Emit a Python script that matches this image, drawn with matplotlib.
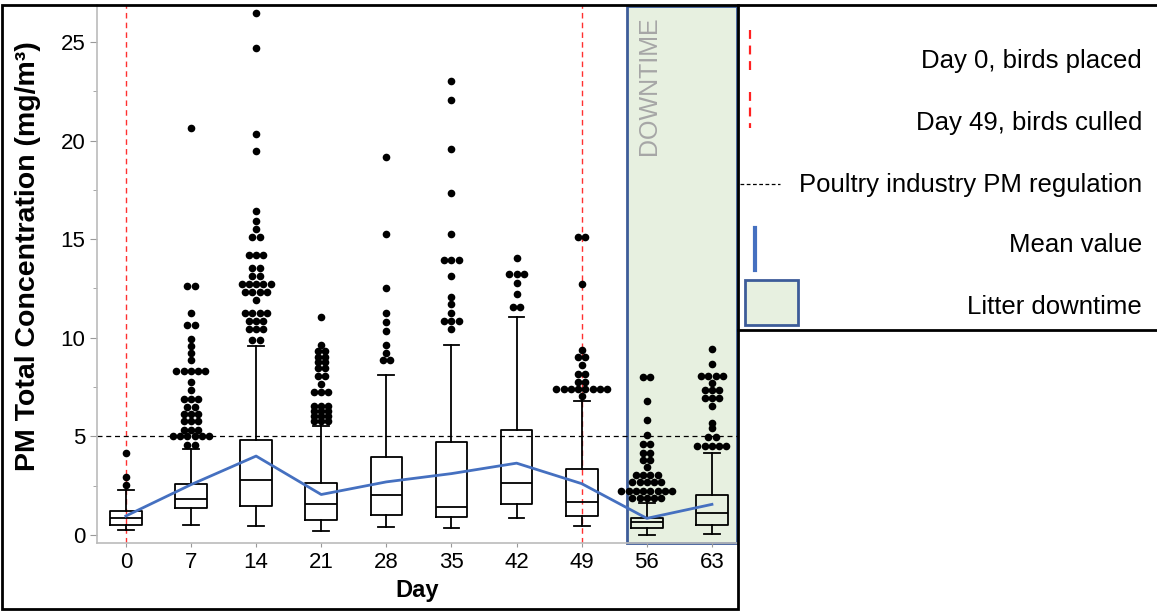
import numpy as np
import matplotlib.pyplot as plt
from matplotlib.patches import Rectangle
from matplotlib.lines import Line2D

plt.rcParams['font.family'] = ['Liberation Sans', 'DejaVu Sans']

# Datos (mg/m3)
days = [0, 7, 14, 21, 28, 35, 42, 49, 56, 63]
q1 = [0.51, 1.38, 1.47, 0.78, 1.02, 0.91, 1.55, 0.96, 0.33, 0.51]
med = [0.87, 1.84, 2.78, 1.56, 2.00, 1.42, 2.65, 1.69, 0.64, 1.09]
q3 = [1.20, 2.60, 4.84, 2.65, 3.96, 4.69, 5.33, 3.33, 0.87, 2.00]
whis_lo = [0.24, 0.51, 0.45, 0.18, 0.38, 0.33, 0.84, 0.45, 0.02, 0.05]
whis_hi = [2.27, 4.38, 9.60, 5.55, 8.09, 9.65, 11.05, 6.78, 1.60, 4.18]
means = [0.96, 2.55, 4.00, 2.05, 2.69, 3.11, 3.64, 2.60, 0.84, 1.55]

# Valores atípicos: (valor, cantidad de puntos en esa fila)
outliers = [
    [(4.15, 1), (2.96, 1), (2.55, 1)],
    [(20.65, 1), (12.65, 2), (11.24, 1), (10.65, 2), (9.96, 1), (9.6, 1), (9.24, 1),
     (8.87, 1), (8.33, 5), (7.75, 1), (7.33, 1), (6.9, 3), (6.5, 2), (6.15, 3),
     (5.78, 3), (5.33, 3), (5.02, 6), (4.56, 2)],
    [(26.47, 1), (24.7, 1), (20.36, 1), (19.45, 1), (16.45, 1), (15.93, 1), (15.5, 1),
     (15.1, 2), (14.18, 3), (13.56, 2), (13.15, 2), (12.75, 5), (12.33, 4), (11.93, 1),
     (11.24, 4), (10.87, 3), (10.47, 3), (9.87, 2)],
    [(11.05, 1), (9.64, 1), (9.33, 2), (9.05, 2), (8.78, 2), (8.45, 2), (8.05, 2),
     (7.64, 1), (7.24, 3), (6.55, 3), (6.29, 3), (6.05, 3), (5.78, 3)],
    [(19.15, 1), (15.24, 1), (12.55, 1), (11.24, 1), (10.78, 1), (10.33, 1), (9.64, 1),
     (9.24, 1), (8.87, 2)],
    [(23.05, 1), (22.05, 1), (19.56, 1), (17.36, 1), (15.24, 1), (13.93, 3), (13.15, 1),
     (12.05, 1), (11.69, 1), (11.24, 1), (10.87, 3), (10.42, 1)],
    [(14.05, 1), (13.24, 3), (12.78, 1), (12.24, 1), (11.56, 2)],
    [(15.1, 2), (12.75, 1), (9.38, 1), (9.0, 2), (8.6, 1), (8.18, 2), (7.78, 2),
     (7.42, 8), (7.05, 1)],
    [(8.02, 2), (6.78, 1), (5.82, 1), (5.05, 1), (4.6, 2), (4.18, 2), (3.78, 2),
     (3.42, 1), (3.05, 4), (2.69, 5), (2.24, 8), (1.87, 5)],
    [(9.42, 1), (8.65, 1), (8.05, 4), (7.69, 1), (7.36, 3), (6.96, 3), (6.55, 1),
     (5.69, 1), (5.42, 1), (4.96, 2), (4.51, 5)],
]

regulacion = 5.0
dia_colocacion = 0
dia_sacrificio = 49
inicio_descanso = 53.9

W, H = 1157, 611
fig = plt.figure(figsize=(W / 100, H / 100), dpi=100)
ax = fig.add_axes([97 / W, (H - 543) / H, 641 / W, 538 / H])

ax.set_xlim(-3.1, 65.8)
ax.set_ylim(-0.41, 26.88)

# Zona de descanso de la cama
ax.axvspan(inicio_descanso, 65.7, ymin=0.0, ymax=0.998, facecolor='#e7f0e0', edgecolor='#3d5c99',
           lw=2, zorder=0, clip_on=False)
ax.text(inicio_descanso + 2.3, 26.3, 'DOWNTIME', rotation=90, va='top', ha='center',
        fontsize=18, color='#a6a6a6', zorder=1)

# Líneas de referencia
for d in [dia_colocacion, dia_sacrificio]:
    ax.axvline(d, color='#ff3030', lw=1, linestyle=(0, (4, 3)), zorder=1)
ax.axhline(regulacion, color='black', lw=0.9, linestyle=(0, (4, 3)), zorder=1)

# Cajas
stats = []
for i in range(len(days)):
    stats.append(dict(med=med[i], q1=q1[i], q3=q3[i], whislo=whis_lo[i], whishi=whis_hi[i], fliers=[]))
lp = dict(color='black', lw=1.3)
ax.bxp(stats, positions=days, widths=3.4, showfliers=False, boxprops=lp, whiskerprops=lp,
       capprops=lp, medianprops=lp, manage_ticks=False, zorder=2)

# Puntos atípicos
for d, grupo in zip(days, outliers):
    for val, n in grupo:
        offs = (np.arange(n) - (n - 1) / 2) * 0.78
        ax.plot(d + offs, [val] * n, 'o', color='black', ms=5.5, mec='none', zorder=3)

# Promedio
ax.plot(days, means, color='#4570c0', lw=2, zorder=4)

ax.set_xticks(days)
ax.set_yticks([0, 5, 10, 15, 20, 25])
ax.set_yticks(np.arange(0, 26, 2.5), minor=True)
ax.tick_params(axis='both', which='major', labelsize=16, color='#999999', length=5)
ax.tick_params(axis='y', which='minor', color='#999999', length=3)
ax.tick_params(axis='x', length=3)
for s in ['top', 'right']:
    ax.spines[s].set_visible(False)
for s in ['left', 'bottom']:
    ax.spines[s].set_color('#bbbbbb')
    ax.spines[s].set_linewidth(1.2)

ax.set_xlabel('Day', fontsize=17, fontweight='bold', labelpad=4)
ax.set_ylabel('PM Total Concentration (mg/m³)', fontsize=20.5, fontweight='bold')
ax.yaxis.set_label_coords(-0.088, 0.533)

# Marcos de la figura
fig.add_artist(Rectangle((2 / W, 1 - 609 / H), 736 / W, 604 / H, transform=fig.transFigure,
                         fill=False, edgecolor='black', lw=2))
fig.add_artist(Line2D([738 / W, 1], [1 - 5 / H, 1 - 5 / H], transform=fig.transFigure, color='black', lw=2))
fig.add_artist(Line2D([738 / W, 1], [1 - 330 / H, 1 - 330 / H], transform=fig.transFigure, color='black', lw=2))

# Leyenda
lax = fig.add_axes([738 / W, (H - 330) / H, 419 / W, 325 / H])
lax.set_xlim(0, 419)
lax.set_ylim(325, 0)
lax.axis('off')
lax.plot([12, 12], [25, 70], color='#ff2020', lw=1.6, linestyle=(0, (4, 3)))
lax.plot([12, 12], [87, 123], color='#ff2020', lw=1.6, linestyle=(0, (4, 3)))
lax.plot([2, 42], [179, 179], color='black', lw=0.9, linestyle=(0, (3, 2)))
lax.plot([17, 17], [223, 265], color='#4570c0', lw=3)
lax.add_patch(Rectangle((7, 275), 53, 45, facecolor='#e7f0e0', edgecolor='#3d5c99', lw=2))
etiquetas = ['Day 0, birds placed', 'Day 49, birds culled', 'Poultry industry PM regulation',
             'Mean value', 'Litter downtime']
for lab, yy in zip(etiquetas, [56, 118, 180, 240, 302]):
    lax.text(404, yy, lab, ha='right', va='center', fontsize=18.5)

fig.savefig('out.png', dpi=100)
